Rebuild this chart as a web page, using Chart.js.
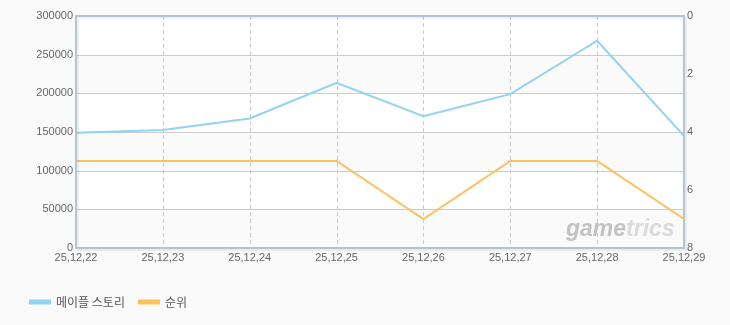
<!DOCTYPE html>
<html>
<head>
<meta charset="utf-8">
<script src="https://cdn.jsdelivr.net/npm/chart.js@4/dist/chart.umd.min.js"></script>
<style>
  html, body { margin: 0; padding: 0; background: #fafafa; }
  #wrap { width: 730px; height: 325px; position: relative; }
</style>
</head>
<body>
<div id="wrap"><canvas id="rankChart"></canvas></div>
<script>
// data
const dates = ['25,12,22', '25,12,23', '25,12,24', '25,12,25', '25,12,26', '25,12,27', '25,12,28', '25,12,29'];
const users = [149000, 152500, 167500, 213500, 170500, 199000, 268000, 145000];
const ranks = [5, 5, 5, 5, 7, 5, 5, 7];
const userTicks = [0, 50000, 100000, 150000, 200000, 250000, 300000];
const rankTicks = [0, 2, 4, 6, 8];

const tickFont = { family: "'Liberation Sans', sans-serif", size: 11 };
const noTickGrid = { display: true, drawOnChartArea: false, drawTicks: false, color: 'transparent' };

// striped background, dashed vertical lines, frame and watermark
const decor = {
    id: 'decor',
    afterLayout(chart) {
        // push the legend in from the left edge
        chart.legend.left += 16;
    },
    beforeDatasetsDraw(chart) {
        const { ctx, chartArea: a, scales } = chart;
        const y = scales.y, x = scales.x;
        ctx.save();
        ctx.fillStyle = '#ffffff';
        ctx.fillRect(a.left, a.top, a.right - a.left, a.bottom - a.top);
        ctx.fillStyle = '#fafafa';
        for (let i = 0; i < userTicks.length - 1; i += 2) {
            const y0 = y.getPixelForValue(userTicks[i]);
            const y1 = y.getPixelForValue(userTicks[i + 1]);
            ctx.fillRect(a.left, y1, a.right - a.left, y0 - y1);
        }
        ctx.strokeStyle = '#cccccc';
        ctx.lineWidth = 1;
        for (let i = 1; i < userTicks.length - 1; i++) {
            const py = Math.round(y.getPixelForValue(userTicks[i])) + 0.5;
            ctx.beginPath(); ctx.moveTo(a.left, py); ctx.lineTo(a.right, py); ctx.stroke();
        }
        ctx.setLineDash([4, 3]);
        for (let i = 1; i < dates.length - 1; i++) {
            const px = Math.round(x.getPixelForValue(i)) + 0.5;
            ctx.beginPath(); ctx.moveTo(px, a.top); ctx.lineTo(px, a.bottom); ctx.stroke();
        }
        ctx.setLineDash([]);
        // watermark
        ctx.font = "italic bold 23px 'Liberation Sans', sans-serif";
        ctx.textBaseline = 'alphabetic';
        ctx.fillStyle = '#c2c2c2';
        const wx = a.right - 118;
        ctx.fillText('game', wx, a.bottom - 12);
        const w = ctx.measureText('game').width;
        ctx.fillStyle = '#dadada';
        ctx.fillText('trics', wx + w, a.bottom - 12);
        ctx.restore();
    },
    afterDatasetsDraw(chart) {
        const { ctx, chartArea: a } = chart;
        ctx.save();
        ctx.strokeStyle = 'rgba(0,0,0,0.06)';
        ctx.lineWidth = 2;
        ctx.strokeRect(a.left + 2, a.top + 2, a.right - a.left, a.bottom - a.top);
        ctx.strokeStyle = '#b3c4d6';
        ctx.lineWidth = 2;
        ctx.strokeRect(a.left, a.top, a.right - a.left, a.bottom - a.top);
        ctx.restore();
    }
};

const chart = new Chart(document.getElementById('rankChart'), {
    type: 'line',
    data: {
        labels: dates,
        datasets: [{
            label: '메이플 스토리',
            data: users,
            yAxisID: 'y',
            borderColor: '#92d2f2',
            backgroundColor: '#92d2f2',
            borderWidth: 2,
            pointRadius: 0,
            tension: 0
        }, {
            label: '순위',
            data: ranks,
            yAxisID: 'y1',
            borderColor: '#ffc05a',
            backgroundColor: '#ffc05a',
            borderWidth: 2,
            pointRadius: 0,
            tension: 0
        }]
    },
    options: {
        responsive: true,
        maintainAspectRatio: false,
        animation: false,
        layout: { padding: { top: 16, right: 0, left: 0, bottom: 7 } },
        plugins: {
            legend: {
                position: 'bottom',
                align: 'start',
                labels: {
                    boxWidth: 20,
                    boxHeight: 3,
                    padding: 14,
                    color: '#555',
                    font: { family: "'Noto Sans CJK KR', sans-serif", size: 12 }
                }
            },
            tooltip: { enabled: false }
        },
        scales: {
            x: {
                offset: false,
                grid: noTickGrid,
                border: { display: false },
                ticks: { color: '#666', font: tickFont, padding: 3, maxRotation: 0, autoSkip: false },
                afterFit: s => { s.height = 34; }
            },
            y: {
                position: 'left',
                min: 0,
                max: 300000,
                afterBuildTicks: s => { s.ticks = userTicks.map(v => ({ value: v })); },
                grid: noTickGrid,
                border: { display: false },
                ticks: { color: '#666', font: tickFont, padding: 3, callback: v => String(v) },
                afterFit: s => { s.width = 76; }
            },
            y1: {
                position: 'right',
                reverse: true,
                min: 0,
                max: 8,
                afterBuildTicks: s => { s.ticks = rankTicks.map(v => ({ value: v })); },
                grid: noTickGrid,
                border: { display: false },
                ticks: { color: '#666', font: tickFont, padding: 3, callback: v => String(v) },
                afterFit: s => { s.width = 46; }
            }
        }
    },
    plugins: [decor]
});
</script>
</body>
</html>
